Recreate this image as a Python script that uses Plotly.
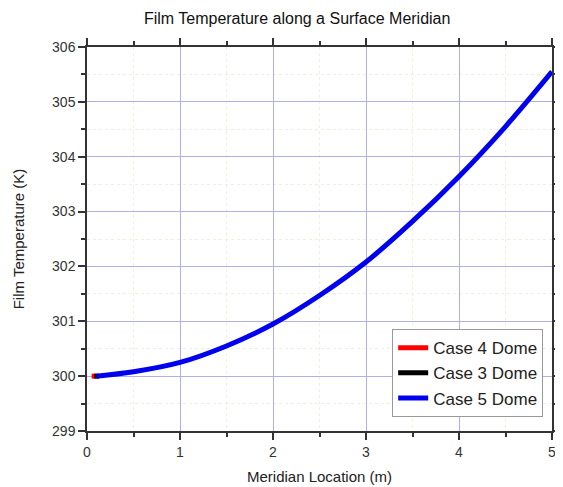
import plotly.graph_objects as go

# Data
case4_x = [0.05, 0.10]
case4_y = [300.0, 300.0]
case3_x = [0.08, 0.13]
case3_y = [300.0, 300.0]
case5_x = [0.10, 0.5, 1.0, 1.5, 2.0, 2.5, 3.0, 3.5, 4.0, 4.5, 5.0]
case5_y = [300.0, 300.08, 300.25, 300.55, 300.95, 301.47, 302.08, 302.82, 303.64, 304.55, 305.55]

x_ticks = [0, 1, 2, 3, 4, 5]
y_ticks = [299, 300, 301, 302, 303, 304, 305, 306]

fig = go.Figure()
fig.add_trace(go.Scatter(x=case4_x, y=case4_y, mode="lines", name="Case 4 Dome",
                         line=dict(color="#ff0000", width=5)))
fig.add_trace(go.Scatter(x=case3_x, y=case3_y, mode="lines", name="Case 3 Dome",
                         line=dict(color="#000000", width=5)))
fig.add_trace(go.Scatter(x=case5_x, y=case5_y, mode="lines", name="Case 5 Dome",
                         line=dict(color="#0000ee", width=5, shape="spline")))

font = "Liberation Sans, Arial, sans-serif"
axis_common = dict(
    showline=True, linecolor="#333333", linewidth=1.5, mirror="allticks",
    ticks="outside", ticklen=7, tickcolor="#333333", tickwidth=1.5,
    showgrid=True, gridcolor="#b0b0e4", gridwidth=1,
    zeroline=False, automargin=False,
    tickfont=dict(family=font, size=14, color="#333333"),
    minor=dict(ticks="outside", ticklen=4, tickcolor="#333333", showgrid=True,
               gridcolor="#e8f2e0", griddash="dot", gridwidth=1),
)

# The page body adds an 8 px offset, so the figure is sized to fill the rest.
fig.update_layout(
    width=555, height=479,
    margin=dict(l=79, r=11, t=39, b=56, autoexpand=False),
    paper_bgcolor="white", plot_bgcolor="white",
    title=dict(text="Film Temperature along a Surface Meridian", x=0.521, xanchor="center",
               y=0.979, yanchor="middle",
               font=dict(family=font, size=16, color="#111111")),
    xaxis=dict(range=[0, 5], tickvals=x_ticks,
               title=dict(text="Meridian Location (m)", standoff=13,
                          font=dict(family=font, size=15, color="#222222")),
               **axis_common),
    yaxis=dict(range=[299, 306], tickvals=y_ticks,
               title=dict(text="Film Temperature (K)", standoff=24,
                          font=dict(family=font, size=15, color="#222222")),
               **axis_common),
    legend=dict(x=0.981, y=0.036, xanchor="right", yanchor="bottom",
                bgcolor="white", bordercolor="#999999", borderwidth=1,
                font=dict(family=font, size=17, color="#222222"),
                tracegroupgap=0, itemwidth=30),
    showlegend=True,
)

fig.write_html("out.html")
